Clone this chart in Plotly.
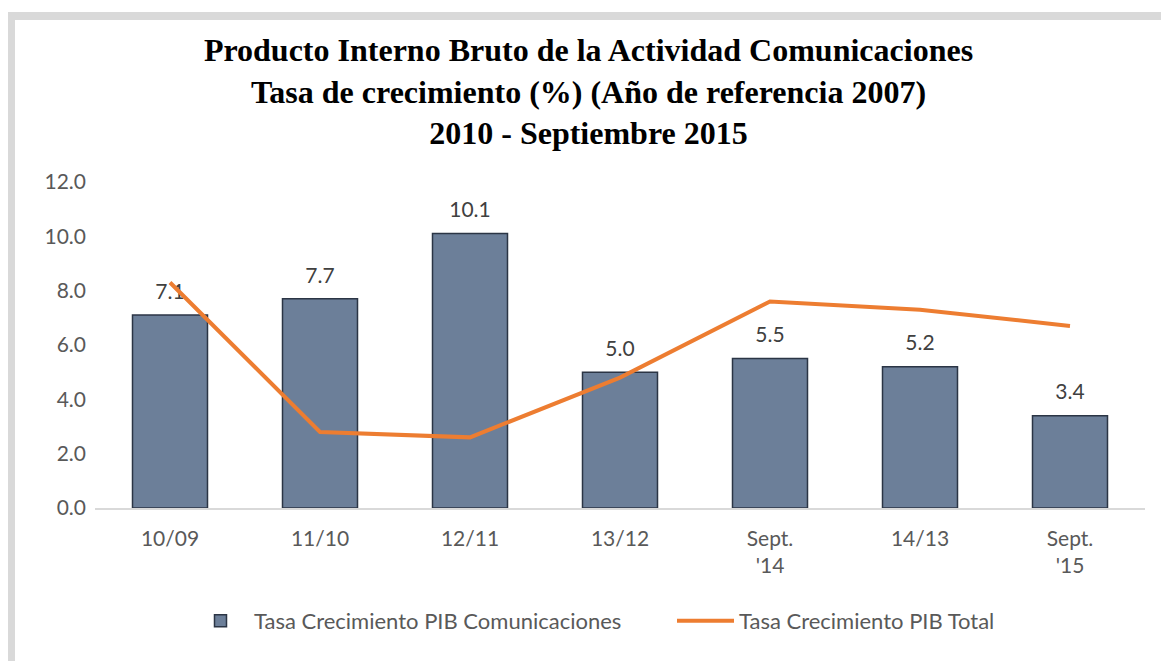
import plotly.graph_objects as go

categories = ["10/09", "11/10", "12/11", "13/12", "Sept.<br>'14", "14/13", "Sept.<br>'15"]
pib_comunicaciones = [7.1, 7.7, 10.1, 5.0, 5.5, 5.2, 3.4]
pib_total = [8.3, 2.8, 2.6, 4.8, 7.6, 7.3, 6.7]
y_ticks = [0, 2, 4, 6, 8, 10, 12]

# page has an 8px body margin; positions below are reference pixels minus 8
OFF = 8
W, H = 1169 - OFF, 661 - OFF
L, R, T, B = 95 - OFF, 24, 182 - OFF, 153
pw, ph = W - L - R, H - T - B

def px_x(p):
    return (p - OFF - L) / pw

def px_y(p):
    return (H - B - (p - OFF)) / ph

FONT = "Lato, 'Liberation Sans', sans-serif"

fig = go.Figure()
fig.add_trace(go.Bar(
    x=categories, y=pib_comunicaciones,
    name="Tasa Crecimiento PIB Comunicaciones",
    marker=dict(color="#6c7f99", line=dict(color="#2b3545", width=1.5)),
    width=0.5,
))
fig.add_trace(go.Scatter(
    x=categories, y=pib_comunicaciones, mode="markers+text",
    text=[f"{v:.1f}" for v in pib_comunicaciones],
    textposition="top center",
    textfont=dict(family=FONT, size=21, color="#404040"),
    marker=dict(size=16, color="rgba(0,0,0,0)"),
    showlegend=False, hoverinfo="skip", cliponaxis=False,
))
fig.add_trace(go.Scatter(
    x=categories, y=pib_total, mode="lines",
    name="Tasa Crecimiento PIB Total",
    line=dict(color="#ed7d31", width=4),
))

fig.update_layout(
    width=W, height=H,
    margin=dict(l=L, r=R, t=T, b=B, autoexpand=False),
    paper_bgcolor="white", plot_bgcolor="white",
    font=dict(family=FONT, size=21, color="#595959"),
    title=dict(
        text="Producto Interno Bruto de la Actividad Comunicaciones<br>Tasa de crecimiento (%) (Año de referencia 2007)<br>2010 - Septiembre 2015",
        font=dict(family="'Liberation Serif', 'Times New Roman', serif", size=32, color="black", weight="bold"),
        x=0.5, xanchor="center", xref="container",
        y=1 - 53 / H, yanchor="top", yref="container",
    ),
    showlegend=True,
    legend=dict(
        orientation="h", xref="container", yref="container",
        x=(187 - OFF) / W, xanchor="left",
        y=1 - (621 - OFF) / H, yanchor="middle",
        font=dict(family=FONT, size=22, color="#595959"),
        itemwidth=57, entrywidth=413, entrywidthmode="pixels",
    ),
    bargap=0.5,
    shapes=[dict(
        type="rect", xref="paper", yref="paper",
        x0=px_x(11), x1=px_x(1250), y0=px_y(800), y1=px_y(16),
        line=dict(color="#d9d9d9", width=8), fillcolor="rgba(0,0,0,0)",
        layer="below",
    )],
)
fig.update_xaxes(
    showgrid=False, showline=True, linecolor="#d9d9d9", linewidth=1.5,
    ticks="", ticklabelstandoff=11,
    tickfont=dict(family=FONT, size=21, color="#595959"),
)
fig.update_yaxes(
    range=[0, 12], tickvals=y_ticks, tickformat=".1f",
    showgrid=False, zeroline=False, showline=False, ticks="",
    ticklabelstandoff=8,
    tickfont=dict(family=FONT, size=21, color="#595959"),
)

fig.write_html("out.html")
